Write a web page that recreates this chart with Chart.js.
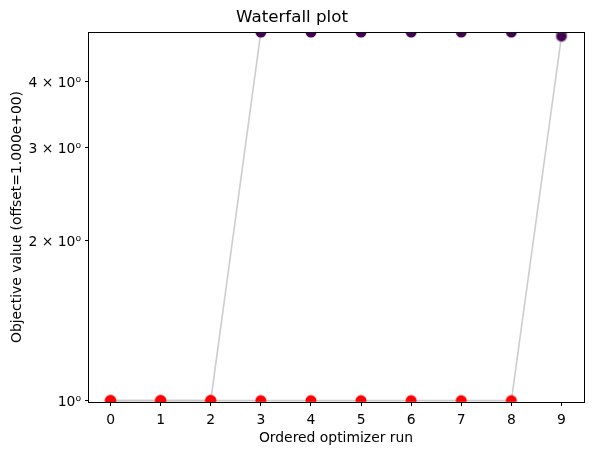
<!DOCTYPE html>
<html>
<head>
<meta charset="utf-8">
<script src="https://cdn.jsdelivr.net/npm/chart.js@4"></script>
<style>
html,body{margin:0;padding:0;background:#fff;}
#wrap{width:594px;height:455px;}
</style>
</head>
<body>
<div id="wrap"><canvas id="c" width="594" height="455"></canvas></div>
<script>
// ---- data ----
const runs = [0, 1, 2, 3, 4, 5, 6, 7, 8, 9];
const traceA = [1, 1, 1, 4.95, 4.95, 4.95, 4.95, 4.95, 4.95, 4.95];
const traceB = [1, 1, 1, 1, 1, 1, 1, 1, 1, 4.86];
const yTickValues = [1, 2, 3, 4];
const yTickLabels = ['10⁰', '2 × 10⁰', '3 × 10⁰', '4 × 10⁰'];
const xTickValues = runs;

const FONT = 'DejaVu Sans';
const RED = '#ff0000';
const PURPLE = '#440154';
const GREY = 'rgba(200,200,200,0.9)';
const R = 5.5;

function pts(vals) { return runs.map((r, i) => ({x: r, y: vals[i]})); }
function colFor(v) { return v <= 1 ? RED : PURPLE; }

// dot image, cut where it crosses the plot frame (like matplotlib's clipping)
function dotCanvas(fill, stroke, r, dTop, dBot) {
  const s = Math.ceil(2 * r + 3);
  const c = document.createElement('canvas');
  c.width = s; c.height = s;
  const g = c.getContext('2d');
  const cx = s / 2, cy = s / 2;
  if (dTop < -0.5 || dBot < -0.5) return c;
  g.beginPath();
  if (dTop >= r && dBot >= r) {
    g.arc(cx, cy, r, 0, Math.PI * 2);
  } else if (dTop < r) {
    const a = Math.asin(Math.max(-1, Math.min(1, -dTop / r)));
    g.arc(cx, cy, r, a, Math.PI - a, false);
  } else {
    const a = Math.asin(Math.max(-1, Math.min(1, dBot / r)));
    g.arc(cx, cy, r, a, Math.PI - a, true);
  }
  g.closePath();
  g.fillStyle = fill;
  g.fill();
  if (stroke) { g.lineWidth = 1; g.strokeStyle = stroke; g.stroke(); }
  return c;
}

function dotStyle(withRing) {
  return (ctx) => {
    const chart = ctx.chart;
    const area = chart.chartArea;
    const v = ctx.parsed ? ctx.parsed.y : (ctx.raw ? ctx.raw.y : 1);
    if (!area || !chart.scales.y) return 'circle';
    const py = chart.scales.y.getPixelForValue(v);
    const stroke = (withRing && v > 1) ? 'rgba(185,185,185,1)' : null;
    return dotCanvas(colFor(v), stroke, R, py - area.top, area.bottom - py);
  };
}

const frame = {
  id: 'frame',
  afterDatasetsDraw(chart) {
    const a = chart.chartArea, ctx = chart.ctx;
    ctx.save();
    ctx.strokeStyle = '#000';
    ctx.lineWidth = 1;
    ctx.strokeRect(Math.round(a.left) + 0.5, Math.round(a.top) + 0.5,
                   Math.round(a.right - a.left), Math.round(a.bottom - a.top));
    ctx.restore();
  }
};

new Chart(document.getElementById('c'), {
  type: 'line',
  data: {
    datasets: [
      {data: pts(traceA), borderColor: GREY, borderWidth: 1.6, pointRadius: 0, fill: false, order: 3},
      {data: pts(traceB), borderColor: GREY, borderWidth: 1.6, pointRadius: 0, fill: false, order: 3},
      {data: pts(traceA), showLine: false, pointRadius: R, pointStyle: dotStyle(false),
       pointBackgroundColor: traceA.map(colFor), pointBorderWidth: 0, order: 2},
      {data: pts(traceB), showLine: false, pointRadius: R, pointStyle: dotStyle(true),
       pointBackgroundColor: traceB.map(colFor), pointBorderWidth: 0, order: 1}
    ]
  },
  options: {
    responsive: false,
    animation: false,
    devicePixelRatio: 1,
    layout: {padding: {left: 0, right: 10, top: 0, bottom: 0}},
    plugins: {
      legend: {display: false},
      tooltip: {enabled: false},
      title: {
        display: true,
        text: 'Waterfall plot',
        color: '#000',
        font: {family: FONT, size: 16.7, weight: 'normal'},
        padding: {top: 7.5, bottom: 4.5}
      }
    },
    scales: {
      x: {
        type: 'linear',
        min: -0.45,
        max: 9.45,
        afterBuildTicks: s => { s.ticks = xTickValues.map(v => ({value: v})); },
        afterFit: s => { s.height = 53; },
        grid: {drawOnChartArea: false, drawTicks: true, tickLength: 4, tickColor: '#000', color: '#000'},
        border: {display: false},
        ticks: {color: '#000', font: {family: FONT, size: 13.9}, padding: 6, maxRotation: 0, autoSkip: false,
                callback: v => String(v)},
        title: {display: true, text: 'Ordered optimizer run', color: '#000', font: {family: FONT, size: 13.9}, padding: {top: 2, bottom: 8}}
      },
      y: {
        type: 'logarithmic',
        min: 0.994,
        max: 4.95,
        afterBuildTicks: s => { s.ticks = yTickValues.map(v => ({value: v})); },
        afterFit: s => { s.width = 88; },
        grid: {drawOnChartArea: false, drawTicks: true, tickLength: 3, tickColor: '#000', color: '#000'},
        border: {display: false},
        ticks: {color: '#000', font: {family: FONT, size: 13.9}, padding: 4, labelOffset: 2, autoSkip: false,
                callback: (v) => { const i = yTickValues.indexOf(v); return i >= 0 ? yTickLabels[i] : ''; }},
        title: {display: true, text: 'Objective value (offset=1.000e+00)', color: '#000', font: {family: FONT, size: 13.9}, padding: {top: 9, bottom: 4}}
      }
    }
  },
  plugins: [frame]
});
</script>
</body>
</html>
